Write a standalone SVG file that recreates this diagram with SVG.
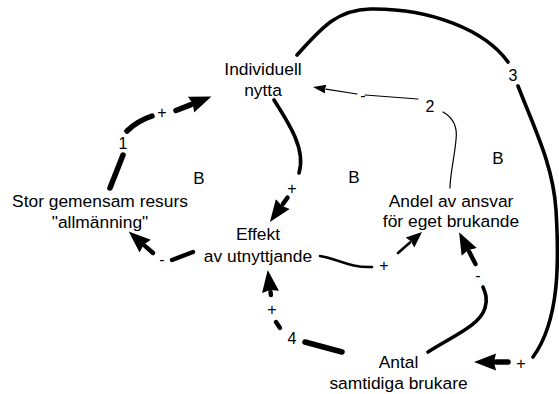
<svg xmlns="http://www.w3.org/2000/svg" width="559" height="394" viewBox="0 0 559 394">
  <style>
    text { font-family: "Liberation Sans", Arial, Helvetica, sans-serif; fill: #000; text-anchor: middle; }
    .node text { font-size: 17.4px; }
    .lbl { font-size: 16px; }
    .loop { font-size: 17px; }
    .link { fill: none; stroke: #000; stroke-linecap: round; }
    .w1 { stroke-width: 1.2; }
    .w2 { stroke-width: 2.6; }
    .w3 { stroke-width: 3.6; }
    .w4 { stroke-width: 4.4; }
    .w5 { stroke-width: 5.5; }
  </style>
  <defs>
    <marker id="ah-l" viewBox="0 -10 24 20" refX="0" refY="0" markerWidth="24" markerHeight="20" markerUnits="userSpaceOnUse" orient="auto">
      <path d="M0,-8.5 L22,0 L0,8.5 L2,0 Z" fill="#000"/>
    </marker>
    <marker id="ah-m" viewBox="0 -8 18 16" refX="0" refY="0" markerWidth="18" markerHeight="16" markerUnits="userSpaceOnUse" orient="auto">
      <path d="M0,-6.5 L16,0 L0,6.5 L1.5,0 Z" fill="#000"/>
    </marker>
    <marker id="ah-s" viewBox="0 -6 14 12" refX="0" refY="0" markerWidth="14" markerHeight="12" markerUnits="userSpaceOnUse" orient="auto">
      <path d="M0,-4.5 L13,0 L0,4.5 L1,0 Z" fill="#000"/>
    </marker>
  </defs>

  <!-- connectors -->
  <g id="connectors">
    <!-- 1: resource -> individual benefit -->
    <path class="link w5" d="M110,188 L123,155"/>
    <path class="link w5" d="M127,131 Q137,121 152,116"/>
    <path class="link w5" d="M176,110.5 L191,104.6" marker-end="url(#ah-l)"/>

    <!-- individual benefit -> effect of use -->
    <path class="link w3" d="M274,100 C290,125 306,150 299,173"/>
    <path class="link w4" d="M287.5,197.6 L282.8,204.1" marker-end="url(#ah-l)"/>

    <!-- effect of use -> resource -->
    <path class="link w4" d="M193,252 L172,260"/>
    <path class="link w4" d="M153,253 L145.2,246.1" marker-end="url(#ah-l)"/>

    <!-- effect of use -> share of responsibility -->
    <path class="link w2" d="M320,256 C338,259 350,268 372,267"/>
    <path class="link w2" d="M398,253 L410,242.5" marker-end="url(#ah-m)"/>

    <!-- number of users -> share of responsibility -->
    <path class="link w3" d="M428,352 C455,335 480,325 485,308 C488,298 485,292 483,287"/>
    <path class="link w4" d="M475.5,264 L469.2,251.8" marker-end="url(#ah-l)"/>

    <!-- 2: share of responsibility -> individual benefit -->
    <path class="link w1" d="M450,188 C450,175 454,160 456,140 C458,125 452,117 443,112"/>
    <path class="link w1" d="M418,99 L365,95"/>
    <path class="link w1" d="M357,94 L325.8,89.1" marker-end="url(#ah-s)"/>

    <!-- 3: individual benefit -> number of users -->
    <path class="link w3" d="M297,55 C320,30 335,10 370,9 C430,8 485,30 508,62"/>
    <path class="link w3" d="M518,86 C535,130 553,165 556,210 C559,260 560,320 533,357"/>
    <path class="link w5" d="M508,362 L496,362" marker-end="url(#ah-l)"/>

    <!-- 4: number of users -> effect of use -->
    <path class="link w5" d="M342,352 L305,342"/>
    <path class="link w4" d="M280,328 L276,322"/>
    <path class="link w4" d="M270.9,295 L270.5,291.9" marker-end="url(#ah-l)"/>

    <!-- polarity and link numbers -->
    <text class="lbl" x="123" y="148.6">1</text>
    <text class="lbl" x="162" y="117.5">+</text>
    <text class="lbl" x="292" y="193.5">+</text>
    <text class="lbl" x="162" y="265">-</text>
    <text class="lbl" x="384" y="270.5">+</text>
    <text class="lbl" x="478" y="281">-</text>
    <text class="lbl" x="521" y="368.5">+</text>
    <text class="lbl" x="292" y="343.6">4</text>
    <text class="lbl" x="272" y="314.5">+</text>
    <text class="lbl" x="430" y="111.6">2</text>
    <text class="lbl" x="363" y="101">-</text>
    <text class="lbl" x="513" y="80.6">3</text>
  </g>

  <!-- balancing loop markers -->
  <g id="loops">
    <text class="loop" x="199" y="184">B</text>
    <text class="loop" x="354" y="183">B</text>
    <text class="loop" x="498" y="164">B</text>
  </g>

  <!-- variables -->
  <g id="individuell-nytta" class="node">
    <text x="263" y="75">Individuell</text>
    <text x="263" y="96">nytta</text>
  </g>
  <g id="stor-gemensam-resurs" class="node">
    <text x="100" y="207">Stor gemensam resurs</text>
    <text x="100" y="228">"allmänning"</text>
  </g>
  <g id="effekt-av-utnyttjande" class="node">
    <text x="258" y="240">Effekt</text>
    <text x="258" y="262">av utnyttjande</text>
  </g>
  <g id="andel-av-ansvar" class="node">
    <text x="451" y="207">Andel av ansvar</text>
    <text x="451" y="227">för eget brukande</text>
  </g>
  <g id="antal-brukare" class="node">
    <text x="398.5" y="368">Antal</text>
    <text x="398.5" y="389">samtidiga brukare</text>
  </g>
</svg>
